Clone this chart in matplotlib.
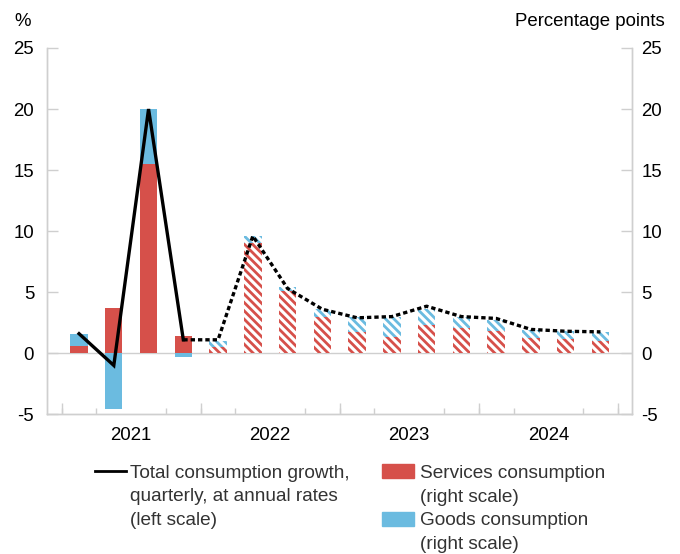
import numpy as np
import matplotlib
matplotlib.use("Agg")
import matplotlib.pyplot as plt
from matplotlib.lines import Line2D
from matplotlib.patches import Rectangle

plt.rcParams["font.family"] = ["Liberation Sans", "DejaVu Sans"]
plt.rcParams["hatch.linewidth"] = 2.0
plt.rcParams["axes.unicode_minus"] = False

# quarters 2021Q1 .. 2024Q4 (from 2022Q1 on: projection, hatched / dashed)
years = ["2021", "2022", "2023", "2024"]
services = [0.6, 3.7, 15.5, 1.4, 0.5, 9.05, 5.1, 3.0, 1.75, 1.35, 2.3, 2.1, 1.85, 1.25, 1.15, 1.0]
goods = [0.95, -4.6, 4.5, -0.3, 0.5, 0.55, 0.3, 0.6, 1.2, 1.65, 1.35, 0.85, 0.9, 0.65, 0.7, 0.75]
total = [1.6, -1.0, 20.0, 1.1, 1.1, 9.6, 5.3, 3.6, 2.9, 3.0, 3.85, 3.0, 2.85, 1.95, 1.8, 1.75]
n_outturn = 4  # first quarters drawn solid

RED = "#d6504a"
BLUE = "#6bbbe0"
GRID = "#cfcfcf"
TXT = "#333333"
FS = 13.4

services = np.array(services)
goods = np.array(goods)
total = np.array(total)
x = np.arange(len(services))
g_bottom = np.where(goods >= 0, services, 0.0)

fig = plt.figure(figsize=(6.8, 5.54), dpi=100)
ax = fig.add_axes([0.0687, 0.2522, 0.8603, 0.6612])   # left scale: line
ax2 = ax.twinx()                                     # right scale: bars
ax.set_zorder(ax2.get_zorder() + 1)
ax.patch.set_visible(False)

w = 0.5
hatch = "\\" * 4
sol, hat = slice(0, n_outturn), slice(n_outturn, None)
ax2.bar(x[sol], services[sol], w, color=RED, lw=0)
ax2.bar(x[sol], goods[sol], w, bottom=g_bottom[sol], color=BLUE, lw=0)
ax2.bar(x[hat], services[hat], w, facecolor="white", edgecolor=RED, lw=0, hatch=hatch)
ax2.bar(x[hat], goods[hat], w, bottom=g_bottom[hat], facecolor="white", edgecolor=BLUE,
        lw=0, hatch=hatch)
ax2.axhline(0, color=GRID, lw=1.0, zorder=0)

ax.plot(x[:n_outturn], total[:n_outturn], "-", c="black", lw=2.4, solid_joinstyle="miter")
ax.plot(x[n_outturn - 1:], total[n_outturn - 1:], c="black", lw=2.4,
        dashes=(1.3, 0.9), dash_capstyle="butt")

for a in (ax, ax2):
    a.set_ylim(-5, 25)
    a.set_xlim(-0.93, 15.9)
    a.set_yticks(np.arange(-5, 26, 5))
    for s in a.spines.values():
        s.set_color(GRID)
        s.set_linewidth(1.0)
    a.spines["top"].set_visible(False)
ax.tick_params(axis="y", direction="in", length=8, width=1.0, color=GRID,
               labelsize=FS, pad=9, labelcolor="black")
ax2.tick_params(axis="y", direction="in", length=8, width=1.0, color=GRID,
                labelsize=FS, pad=7, labelcolor="black")

# x axis: quarter ticks short, year ticks long, labels at year centres
ax.set_xticks(np.arange(1.5, 16, 4))
ax.set_xticklabels(years)
ax.tick_params(axis="x", length=0, labelsize=FS, pad=9)
ax.set_xticks(np.arange(-0.5, 16, 1), minor=True)
ax.tick_params(axis="x", which="minor", direction="in", length=4, width=1.0, color=GRID)
ax2.tick_params(axis="x", bottom=False, labelbottom=False)
sec = ax.secondary_xaxis("bottom")
sec.set_xticks(np.arange(-0.5, 16, 4))
sec.tick_params(direction="in", length=8, width=1.0, color=GRID, labelbottom=False)
sec.spines["bottom"].set_visible(False)

fig.text(0.021, 0.962, "%", fontsize=FS, va="center", ha="left")
fig.text(0.978, 0.962, "Percentage points", fontsize=FS, va="center", ha="right")

# legend
def fy(py):
    return 1 - py / 554.0

fig.add_artist(Line2D([95 / 680, 126 / 680], [fy(471), fy(471)], color="black", lw=2.0))
for i, t in enumerate(["Total consumption growth,", "quarterly, at annual rates", "(left scale)"]):
    fig.text(129.5 / 680, fy(477.7 + 23.5 * i), t, fontsize=13.7, color=TXT, va="baseline")
fig.add_artist(Rectangle((382 / 680, fy(477.7)), 32 / 680, 13.4 / 554, color=RED,
                         transform=fig.transFigure))
fig.add_artist(Rectangle((382 / 680, fy(525.7)), 32 / 680, 13.4 / 554, color=BLUE,
                         transform=fig.transFigure))
for i, t in enumerate(["Services consumption", "(right scale)", "Goods consumption", "(right scale)"]):
    fig.text(420 / 680, fy(477.7 + 23.8 * i), t, fontsize=13.7, color=TXT, va="baseline")

fig.savefig("out.png", dpi=100)
